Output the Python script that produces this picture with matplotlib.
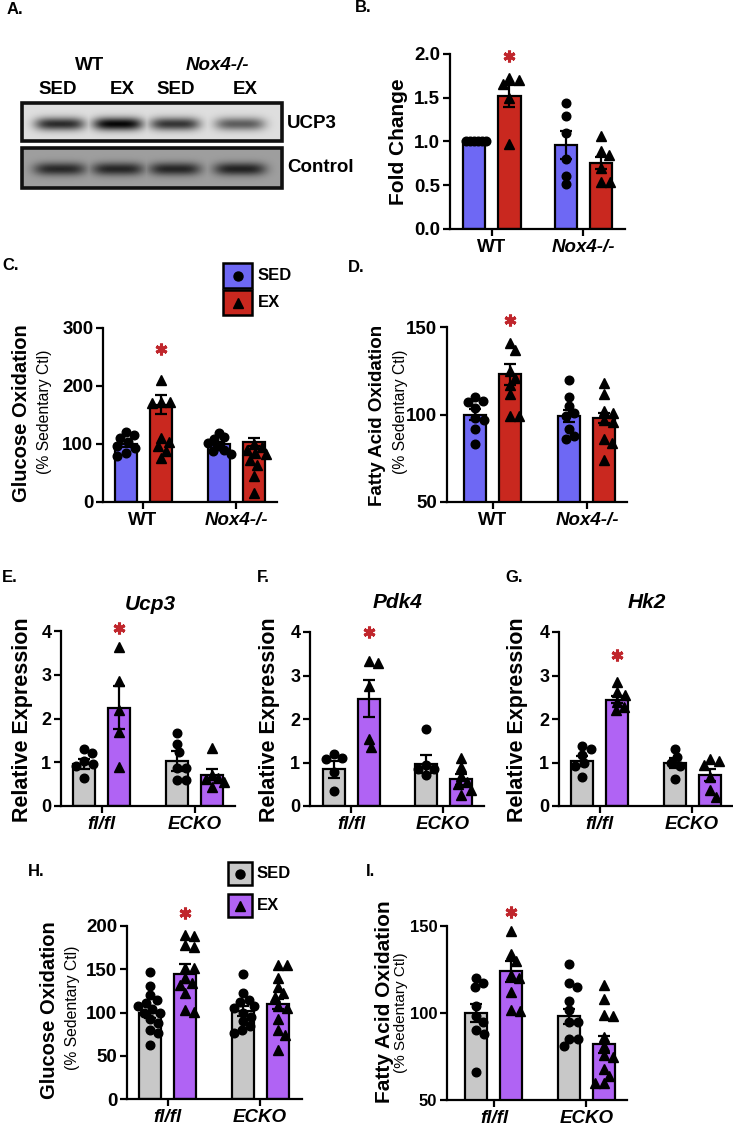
import numpy as np
import matplotlib
matplotlib.use('Agg')
import matplotlib.pyplot as plt
from matplotlib.patches import Rectangle

plt.rcParams['font.family'] = ['Liberation Sans', 'DejaVu Sans']

W, H = 733, 1126
fig = plt.figure(figsize=(W / 100, H / 100), dpi=100)

BLUE = '#6e68f4'
RED = '#c9281f'
GRAY = '#c8c8c8'
PURPLE = '#b063f4'
STAR = '#c0262c'

# ---------------- data ----------------
groups_nox = ['WT', 'Nox4-/-']
groups_ecko = ['fl/fl', 'ECKO']
legend_labels = ['SED', 'EX']
blot_lanes = ['SED', 'EX', 'SED', 'EX']
ucp3_band = [0.80, 0.97, 0.76, 0.58]
control_band = [0.74, 0.76, 0.76, 0.78]

b_mean = [1.00, 1.52, 0.96, 0.75]
b_sem = [0.0, 0.13, 0.16, 0.07]
b_wt_sed = [1.0, 1.0, 1.0, 1.0, 1.0, 1.0]
b_wt_ex = [1.73, 1.70, 1.66, 1.50, 0.97]
b_ko_sed = [1.44, 1.29, 1.10, 0.80, 0.61, 0.51]
b_ko_ex = [1.06, 0.89, 0.85, 0.70, 0.54, 0.54]

c_mean = [100, 168, 100, 103]
c_sem = [5, 16, 4, 7]
c_wt_sed = [121, 116, 110, 103, 96, 93, 84, 80]
c_wt_ex = [211, 173, 172, 170, 110, 104, 96, 88, 76]
c_ko_sed = [119, 112, 108, 102, 96, 90, 88, 82]
c_ko_ex = [100, 95, 90, 85, 82, 73, 64, 44, 16]

d_mean = [100, 123, 99, 98]
d_sem = [3, 6, 3.5, 3]
d_wt_sed = [110, 108, 107, 104, 98, 97, 92, 83]
d_wt_ex = [141, 137, 125, 121, 117, 112, 99, 99]
d_ko_sed = [120, 110, 105, 101, 99, 92, 88, 86]
d_ko_ex = [118, 112, 102, 101, 97, 96, 86, 84, 74]

e_mean = [0.96, 2.25, 1.03, 0.72]
e_sem = [0.11, 0.50, 0.22, 0.13]
e_fl_sed = [1.30, 1.22, 1.02, 0.97, 0.92, 0.63]
e_fl_ex = [3.63, 2.85, 2.20, 1.70, 0.90]
e_ko_sed = [1.68, 1.42, 1.23, 0.86, 0.86, 0.60, 0.60]
e_ko_ex = [1.33, 0.72, 0.64, 0.62, 0.55, 0.44]

f_mean = [0.84, 2.47, 0.97, 0.61]
f_sem = [0.20, 0.43, 0.20, 0.13]
f_fl_sed = [1.20, 1.11, 1.09, 0.78, 0.35]
f_fl_ex = [3.34, 3.29, 2.75, 1.55, 1.36]
f_ko_sed = [1.76, 0.95, 0.86, 0.84, 0.72]
f_ko_ex = [1.10, 0.90, 0.70, 0.55, 0.50, 0.37, 0.25]

g_mean = [1.04, 2.44, 0.99, 0.71]
g_sem = [0.12, 0.08, 0.12, 0.13]
g_fl_sed = [1.38, 1.32, 1.17, 0.98, 0.92, 0.67]
g_fl_ex = [2.86, 2.63, 2.55, 2.40, 2.28, 2.20]
g_ko_sed = [1.31, 1.12, 0.98, 0.92, 0.63]
g_ko_ex = [1.09, 1.03, 0.95, 0.67, 0.36, 0.21]

h_mean = [100, 145, 102, 110]
h_sem = [6, 11, 6, 6]
h_fl_sed = [147, 131, 120, 114, 111, 107, 104, 100, 99, 93, 88, 80, 76, 63]
h_fl_ex = [190, 188, 178, 176, 151, 151, 140, 134, 132, 122, 103, 101]
h_ko_sed = [145, 122, 115, 112, 107, 105, 100, 95, 90, 84, 80, 76]
h_ko_ex = [155, 155, 140, 130, 122, 118, 107, 105, 92, 80, 74, 57]

i_mean = [100, 124, 98, 82]
i_sem = [5, 6, 4.5, 5]
i_fl_sed = [120, 117, 115, 104, 98, 95, 90, 88, 66]
i_fl_ex = [147, 134, 130, 122, 120, 112, 102, 101]
i_ko_sed = [128, 117, 115, 107, 102, 95, 95, 85, 85, 81]
i_ko_ex = [116, 108, 99, 98, 86, 81, 76, 75, 68, 64, 60, 60]

# ---------------- canvas (pixel coordinates) ----------------
cv = fig.add_axes([0, 0, 1, 1])
cv.set_xlim(0, W)
cv.set_ylim(H, 0)
cv.axis('off')
cv.patch.set_alpha(0)


def ptxt(x, y, s, size=12, weight='bold', style='normal', ha='left', va='center', rot=0):
    cv.text(x, y, s, fontsize=size, fontweight=weight, fontstyle=style,
            ha=ha, va=va, rotation=rot, rotation_mode='anchor' if rot else 'default')


# ---------------- panel A: blot ----------------
def blot(x0, x1, y0, y1, bg, bands, band_y, hw, hh):
    w, h = int(x1 - x0), int(y1 - y0)
    yy, xx = np.mgrid[0:h, 0:w] + 0.5
    img = np.full((h, w), bg, dtype=float)
    lane_c = [60, 118, 175, 240]
    dark = np.zeros((h, w))
    for c, inten in zip(lane_c, bands):
        prof = np.exp(-((xx + x0 - c) / hw) ** 4) * np.exp(-((yy + y0 - band_y) / hh) ** 2)
        dark = np.maximum(dark, inten * prof)
    img = img * (1 - dark)
    cv.imshow(img, cmap='gray', vmin=0, vmax=1, extent=(x0, x1, y1, y0),
              aspect='auto', interpolation='bilinear', zorder=1)
    cv.add_patch(Rectangle((x0, y0), x1 - x0, y1 - y0, fill=False, lw=2.6,
                           edgecolor='#111111', zorder=2))


blot(22, 282, 103, 141, 0.87, ucp3_band, 124, 25, 6.5)
blot(22, 282, 148, 188, 0.62, control_band, 169, 26, 6.5)
ptxt(90, 65, 'WT', size=13.5, ha='center')
ptxt(217, 65, 'Nox4-/-', size=13.5, style='italic', ha='center')
for x, s in zip([58, 122, 176, 245], blot_lanes):
    ptxt(x, 90, s, size=13.5, ha='center')
ptxt(287, 123, 'UCP3', size=13.5)
ptxt(287, 168, 'Control', size=13.5)

# panel letters
for x, y, s in [(7, 10, 'A.'), (355, 8, 'B.'), (2, 266, 'C.'), (348, 268, 'D.'),
                (2, 578, 'E.'), (257, 578, 'F.'), (505, 578, 'G.'), (28, 872, 'H.'),
                (366, 872, 'I.')]:
    ptxt(x, y, s, size=12)


# ---------------- bar panels ----------------
def swarm(vals, ppu_y, ppu_x, d=8.5, maxoff=12.0):
    placed = []
    offs = np.zeros(len(vals))
    for i in np.argsort(vals)[::-1]:
        y = vals[i] * ppu_y
        for k in range(0, 60):
            cand = ((k + 1) // 2) * (1 if k % 2 else -1) * 1.0
            if all((cand - px) ** 2 + (y - py) ** 2 >= d * d for px, py in placed):
                break
        placed.append((cand, y))
        offs[i] = cand
    m = np.abs(offs).max()
    if m > maxoff:
        offs = offs * maxoff / m
    return offs / ppu_x


def panel(left, c0, c1, right, ytop, ybot, ylim, yticks, yticklabels, means, sems,
          pts, colors, groups, star_y, tick_size=13.5, italic_first=True):
    s = c1 - c0
    ax = fig.add_axes([left / W, 1 - ybot / H, (right - left) / W, (ybot - ytop) / H])
    ax.set_xlim((left - c0) / s, (right - c0) / s)
    ax.set_ylim(*ylim)
    ax.patch.set_alpha(0)
    off = 17.5 / s
    pos = [-off, off, 1 - off, 1 + off]
    ax.bar(pos, means, width=22 / s, color=colors, edgecolor='black', linewidth=1.6, zorder=2)
    ppu_y = (ybot - ytop) / (ylim[1] - ylim[0])
    for j, (p, vals) in enumerate(zip(pos, pts)):
        vals = np.asarray(vals, dtype=float)
        xo = swarm(vals, ppu_y, s)
        ax.plot(p + xo, vals, linestyle='none', marker='o' if j % 2 == 0 else '^',
                ms=6.2 if j % 2 == 0 else 6.8, color='black', zorder=3, clip_on=False)
    ax.errorbar(pos, means, yerr=sems, fmt='none', ecolor='black', elinewidth=1.6,
                capsize=4.5, capthick=1.6, zorder=4)
    ax.plot(pos[1], star_y, marker=(6, 2, 0), ms=8.5, mew=2.2, color=STAR,
            clip_on=False, zorder=5)
    for sp in ['top', 'right']:
        ax.spines[sp].set_visible(False)
    for sp in ['left', 'bottom']:
        ax.spines[sp].set_linewidth(1.6)
    ax.set_yticks(yticks)
    ax.set_yticklabels(yticklabels, fontsize=tick_size, fontweight='bold')
    ax.set_xticks([0, 1])
    ax.set_xticklabels(groups, fontsize=13.5, fontweight='bold')
    labs = ax.get_xticklabels()
    if italic_first:
        labs[0].set_fontstyle('italic')
    labs[1].set_fontstyle('italic')
    ax.tick_params(direction='out', length=5, width=1.6, pad=2)
    return ax


cols_nox = [BLUE, RED, BLUE, RED]
cols_ecko = [GRAY, PURPLE, GRAY, PURPLE]

panel(450, 492, 583, 625, 54, 229, (0, 2.0), [0, 0.5, 1.0, 1.5, 2.0],
      ['0.0', '0.5', '1.0', '1.5', '2.0'], b_mean, b_sem,
      [b_wt_sed, b_wt_ex, b_ko_sed, b_ko_ex], cols_nox, groups_nox, 1.98, italic_first=False)
panel(103, 143, 236, 277, 328, 502, (0, 300), [0, 100, 200, 300],
      ['0', '100', '200', '300'], c_mean, c_sem,
      [c_wt_sed, c_wt_ex, c_ko_sed, c_ko_ex], cols_nox, groups_nox, 263, italic_first=False)
panel(447, 493, 587, 627, 327, 502, (50, 150), [50, 100, 150],
      ['50', '100', '150'], d_mean, d_sem,
      [d_wt_sed, d_wt_ex, d_ko_sed, d_ko_ex], cols_nox, groups_nox, 154, italic_first=False)
panel(61, 101.5, 194.5, 235, 631, 806, (0, 4), [0, 1, 2, 3, 4],
      ['0', '1', '2', '3', '4'], e_mean, e_sem,
      [e_fl_sed, e_fl_ex, e_ko_sed, e_ko_ex], cols_ecko, groups_ecko, 4.06, tick_size=13)
panel(310, 351, 443, 484, 632, 806, (0, 4), [0, 1, 2, 3, 4],
      ['0', '1', '2', '3', '4'], f_mean, f_sem,
      [f_fl_sed, f_fl_ex, f_ko_sed, f_ko_ex], cols_ecko, groups_ecko, 4.0, tick_size=13)
panel(559, 599.5, 692, 732, 632, 806, (0, 4), [0, 1, 2, 3, 4],
      ['0', '1', '2', '3', '4'], g_mean, g_sem,
      [g_fl_sed, g_fl_ex, g_ko_sed, g_ko_ex], cols_ecko, groups_ecko, 3.46, tick_size=13)
panel(127, 167.5, 260, 302, 926, 1099, (0, 200), [0, 50, 100, 150, 200],
      ['0', '50', '100', '150', '200'], h_mean, h_sem,
      [h_fl_sed, h_fl_ex, h_ko_sed, h_ko_ex], cols_ecko, groups_ecko, 215)
panel(447, 494, 586.5, 627, 926, 1100, (50, 150), [50, 100, 150],
      ['50', '100', '150'], i_mean, i_sem,
      [i_fl_sed, i_fl_ex, i_ko_sed, i_ko_ex], cols_ecko, groups_ecko, 158, tick_size=12)

# axis titles
ptxt(398, 142, 'Fold Change', size=15, ha='center', rot=90)
ptxt(22, 413, 'Glucose Oxidation', size=14.5, ha='center', rot=90)
ptxt(44, 412, '(% Sedentary Ctl)', size=11.3, weight='normal', ha='center', rot=90)
ptxt(378, 415, 'Fatty Acid Oxidation', size=13.5, ha='center', rot=90)
ptxt(400, 412, '(% Sedentary Ctl)', size=11.3, weight='normal', ha='center', rot=90)
for x in [23, 270, 518]:
    ptxt(x, 720, 'Relative Expression', size=15.5, ha='center', rot=90)
ptxt(50, 1010, 'Glucose Oxidation', size=14.5, ha='center', rot=90)
ptxt(73, 1008, '(% Sedentary Ctl)', size=11.3, weight='normal', ha='center', rot=90)
ptxt(384, 1002, 'Fatty Acid Oxidation', size=15, ha='center', rot=90)
ptxt(401, 1013, '(% Sedentary Ctl)', size=11, weight='normal', ha='center', rot=90)

# gene titles
ptxt(150, 605, 'Ucp3', size=15, style='italic', ha='center')
ptxt(398, 602, 'Pdk4', size=15, style='italic', ha='center')
ptxt(647, 602, 'Hk2', size=15, style='italic', ha='center')


# legends
def legend(x0, x1, ys, colors, labels, tx, size=12):
    for (y0, y1), c, lab, mk in zip(ys, colors, labels, ['o', '^']):
        cv.add_patch(Rectangle((x0, y0), x1 - x0, y1 - y0, facecolor=c, edgecolor='black',
                               lw=1.8, zorder=3))
        cv.plot((x0 + x1) / 2, (y0 + y1) / 2, marker=mk, ms=6.5, color='black', zorder=4)
        ptxt(tx, (y0 + y1) / 2, lab, size=size)


legend(223, 252, [(263, 288), (290, 315)], [BLUE, RED], legend_labels, 258)
legend(228, 252, [(862, 885), (894, 917)], [GRAY, PURPLE], legend_labels, 257)

fig.savefig('out.png', dpi=100)
